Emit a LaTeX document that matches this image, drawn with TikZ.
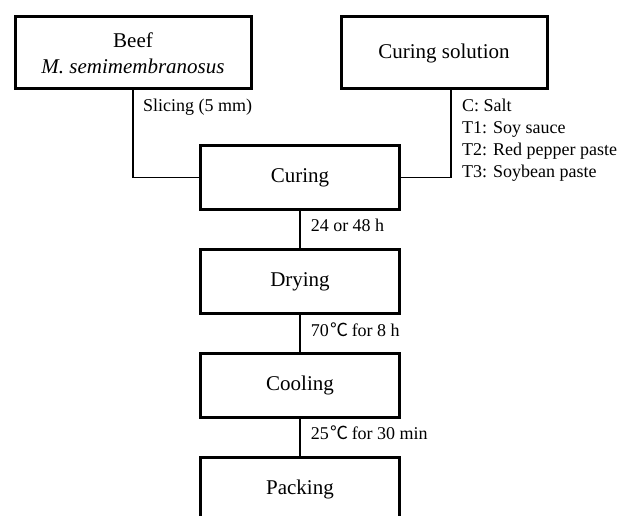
\documentclass[tikz,border=0pt]{standalone}
\usepackage{fontspec}
\setmainfont{Liberation Serif}
\newfontfamily\cjk{Noto Sans CJK KR}
\usepackage{tikz}
\usetikzlibrary{positioning}
\tikzstyle{stepbox} = [rectangle, minimum width=199pt, minimum height=64pt, text centered, draw=black, line width=3pt, font=\fontsize{21}{26}\selectfont]
\tikzstyle{lbl} = [inner sep=2pt, align=left, font=\fontsize{18}{22}\selectfont]
\tikzstyle{line} = [line width=1.5pt]
\newcommand{\degc}{\kern2pt{\cjk ℃}\kern3pt}

\begin{document}
\begin{tikzpicture}[x=1pt, y=-1pt, node distance=104pt]
\useasboundingbox (0,0) rectangle (619,516);

% Nodes
\node (beef) [stepbox, minimum width=236pt, minimum height=72pt, align=center] at (133,53) {Beef\\\textit{M. semimembranosus}};
\node (solution) [stepbox, minimum width=206pt, minimum height=72pt] at (444,53) {Curing solution};
\node (curing) [stepbox] at (300,177.5) {Curing};
\node (drying) [stepbox, below of=curing] {Drying};
\node (cooling) [stepbox, below of=drying] {Cooling};
\node (packing) [stepbox, below of=cooling] {Packing};

% Labels
\node (slicing) [lbl, anchor=west] at ([xshift=8pt,yshift=-17pt]beef.south) {Slicing (5 mm)};
\node (recipes) [lbl, anchor=west] at ([xshift=16pt,yshift=-50pt]solution.south) {C: Salt\\T1: Soy sauce\\T2: Red pepper paste\\T3: Soybean paste};

% Lines
\draw [line] (beef.south) |- (curing.west);
\draw [line] ([xshift=7pt]solution.south) |- (curing.east);
\draw [line] (curing) -- node[lbl, right=8pt, yshift=4pt] {24 or 48 h} (drying);
\draw [line] (drying) -- node[lbl, right=8pt, yshift=4pt] {70\degc{}for 8 h} (cooling);
\draw [line] (cooling) -- node[lbl, right=8pt, yshift=5pt] {25\degc{}for 30 min} (packing);

\end{tikzpicture}
\end{document}
